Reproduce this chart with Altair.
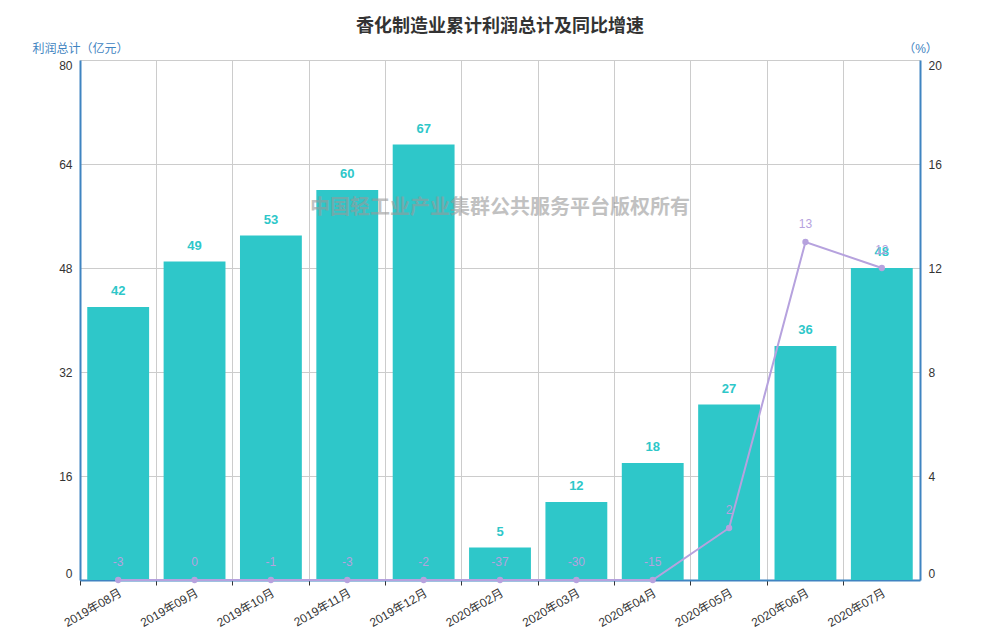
import altair as alt
import pandas as pd

months = ["2019年08月", "2019年09月", "2019年10月", "2019年11月", "2019年12月",
          "2020年02月", "2020年03月", "2020年04月", "2020年05月", "2020年06月", "2020年07月"]
profit = [42, 49, 53, 60, 67, 5, 12, 18, 27, 36, 48]
growth = [-3, 0, -1, -3, -2, -37, -30, -15, 2, 13, 12]
left_ticks = [0, 16, 32, 48, 64, 80]
right_ticks = [0, 4, 8, 12, 16, 20]
watermark = ["中国轻工业产业集群公共服务平台版权所有"]

FONT = "Liberation Sans, Noto Sans CJK SC, sans-serif"
BAR = "#2ec7c9"
LINE = "#b6a2de"
AXIS = "#3f84c1"
W, H = 840, 520

df = pd.DataFrame({"month": months, "profit": profit, "growth": growth,
                   "glabel": [str(v) for v in growth]})
base = alt.Chart(df)

xscale = alt.Scale(paddingInner=0, paddingOuter=0)

x_main = alt.X("month:N", sort=months, scale=xscale,
               axis=alt.Axis(bandPosition=0, grid=True, gridColor="#cccccc",
                             labels=True, labelAngle=-30,
                             labelColor="#333333", labelFontSize=12, labelFont=FONT, labelPadding=2,
                             ticks=True, tickColor="#333333", tickSize=5, domain=True,
                             domainColor=AXIS, domainWidth=2, title=None))
x_plain = alt.X("month:N", sort=months, scale=xscale)

y_left = alt.Y("profit:Q", scale=alt.Scale(domain=[0, 80]),
               axis=alt.Axis(values=left_ticks, title="利润总计（亿元）", grid=True, gridColor="#cccccc",
                             ticks=False, domain=True, domainColor=AXIS, domainWidth=2,
                             labelFlush=True, labelColor="#333333", labelFontSize=12, labelFont=FONT,
                             labelPadding=8, titleAngle=0, titleX=0, titleY=-5, titleAlign="center",
                             titleBaseline="bottom", titleColor=AXIS, titleFontSize=12,
                             titleFontWeight="normal", titleFont=FONT))
y_right = alt.Y("growth:Q", scale=alt.Scale(domain=[0, 20], clamp=True),
                axis=alt.Axis(values=right_ticks, orient="right", title="（%）", grid=False,
                              ticks=False, domain=True, domainColor=AXIS, domainWidth=2,
                              labelFlush=True, labelColor="#333333", labelFontSize=12, labelFont=FONT,
                              labelPadding=8, titleAngle=0, titleX=0, titleY=-5, titleAlign="center",
                              titleBaseline="bottom", titleColor=AXIS, titleFontSize=12,
                              titleFontWeight="normal", titleFont=FONT))

bars = base.mark_bar(color=BAR, width=alt.RelativeBandSize(0.81)).encode(x=x_main, y=y_left)
bar_text = base.mark_text(dy=-16, color=BAR, fontSize=13, fontWeight="bold", font=FONT).encode(
    x=x_plain, y=alt.Y("profit:Q"), text="profit:Q")
left = alt.layer(bars, bar_text)

line = base.mark_line(color=LINE, strokeWidth=2,
                      point=alt.OverlayMarkDef(color=LINE, size=40, filled=True)).encode(x=x_plain, y=y_right)
line_text = base.mark_text(dy=-18, color=LINE, fontSize=12, font=FONT).encode(
    x=x_plain, y=alt.Y("growth:Q"), text="glabel:N")
right = alt.layer(line, line_text)

wm = alt.Chart(pd.DataFrame({"t": watermark})).mark_text(
    color="#999999", opacity=0.6, fontSize=20, fontWeight="bold", font=FONT
).encode(x=alt.value(W / 2), y=alt.value(148), text="t:N")

chart = alt.layer(left, right, wm).resolve_scale(y="independent").properties(
    width=W, height=H,
    title=alt.TitleParams("香化制造业累计利润总计及同比增速", fontSize=18, fontWeight="bold",
                          color="#333333", font=FONT, anchor="middle", offset=6),
    autosize=alt.AutoSizeParams(type="none"),
    padding={"left": 72, "top": 52, "right": 72, "bottom": 52},
).configure_view(stroke=None)

chart.save("out.html", embed_options={"renderer": "svg", "actions": False})
